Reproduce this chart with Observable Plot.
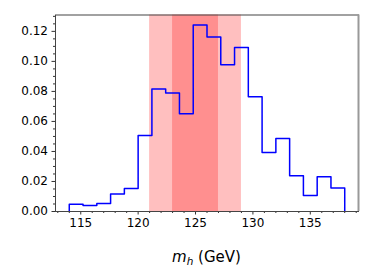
<!DOCTYPE html>
<html><head><meta charset="utf-8">
<script src="https://cdn.jsdelivr.net/npm/d3@7"></script>
<script src="https://cdn.jsdelivr.net/npm/@observablehq/plot@0.6"></script>
<style>body{margin:0;background:#fff}</style>
</head><body><div id="chart"></div>
<script>
const binEdges = [114, 115.2, 116.4, 117.6, 118.8, 120, 121.2, 122.4, 123.6, 124.8, 126, 127.2, 128.4, 129.6, 130.8, 132, 133.2, 134.4, 135.6, 136.8, 138];
const binValues = [0.0049, 0.0040, 0.0053, 0.0116, 0.0153, 0.0507, 0.0816, 0.0789, 0.0651, 0.1243, 0.1163, 0.0978, 0.1093, 0.0765, 0.0393, 0.0487, 0.0238, 0.0107, 0.0231, 0.0156];
const outerBand = [121, 129];
const innerBand = [123, 127];
const xTicks = [115, 120, 125, 130, 135];
const xMinorTicks = [113,114,116,117,118,119,121,122,123,124,126,127,128,129,131,132,133,134,136,137,138,139];
const yTicks = [0, 0.02, 0.04, 0.06, 0.08, 0.10, 0.12];
const yMinorTicks = [0.005,0.01,0.015,0.025,0.03,0.035,0.045,0.05,0.055,0.065,0.07,0.075,0.085,0.09,0.095,0.105,0.11,0.115,0.125,0.13];

const stepPts = [{x: binEdges[0], y: 0}];
binValues.forEach((v, i) => stepPts.push({x: binEdges[i], y: v}));
stepPts.push({x: binEdges[binEdges.length - 1], y: 0});

const W = 374, H = 280, mL = 55, mR = 16, mT = 14.5, mB = 69;
const font = "DejaVu Sans, sans-serif";
const plot = Plot.plot({
  width: W, height: H,
  marginLeft: mL, marginRight: mR, marginTop: mT, marginBottom: mB,
  style: {fontFamily: font, fontSize: "12px", color: "#000", background: "#fff"},
  x: {domain: [112.8, 139.2], label: null},
  y: {domain: [0, 0.1309], label: null},
  marks: [
    Plot.rect([outerBand], {x1: d => d[0], x2: d => d[1], fill: "#ff0000", fillOpacity: 0.25}),
    Plot.rect([innerBand], {x1: d => d[0], x2: d => d[1], fill: "#ff0000", fillOpacity: 0.25}),
    Plot.line(stepPts, {x: "x", y: "y", curve: "step-after", stroke: "#0000ff", strokeWidth: 1.5}),
    Plot.axisX(xMinorTicks.filter(t => t > 112.8 && t < 139.2), {tickSize: 2, tickFormat: () => "", stroke: "#333", label: null}),
    Plot.axisX(xTicks, {tickSize: 3.5, tickPadding: 3, tickFormat: d => String(d), stroke: "#333", fontSize: 12, label: null}),
    Plot.axisY(yMinorTicks.filter(t => t < 0.1309), {tickSize: 2, tickFormat: () => "", stroke: "#333", label: null}),
    Plot.axisY(yTicks, {tickSize: 3.5, tickPadding: 4, tickFormat: d3.format(".2f"), stroke: "#333", fontSize: 12, label: null}),
    Plot.frame({stroke: "#444", strokeWidth: 1}),
    Plot.ruleX([139.2], {stroke: "#999", strokeWidth: 2})
  ]
});
const svg = d3.select(plot);
const t = svg.append("text")
  .attr("x", mL + (W - mL - mR) / 2)
  .attr("y", 262)
  .attr("text-anchor", "middle")
  .attr("font-family", font)
  .attr("font-size", 15)
  .attr("fill", "#000");
t.append("tspan").attr("font-style", "italic").text("m");
t.append("tspan").attr("font-style", "italic").attr("font-size", 10.5).attr("dy", 3).text("h");
t.append("tspan").attr("dy", -3).text(" (GeV)");
document.getElementById("chart").appendChild(plot);
</script></body></html>
